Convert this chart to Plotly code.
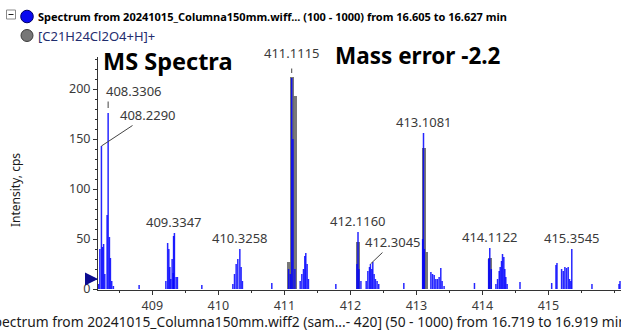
import plotly.graph_objects as go

# ---------------- data ----------------
blue_mz = [408.185, 408.205, 408.229, 408.245, 408.262, 408.28, 408.315, 408.3306, 408.35, 408.365, 408.385, 408.41, 408.80,
           409.205, 409.232, 409.25, 409.265, 409.28, 409.30, 409.315, 409.322, 409.3347, 409.36, 409.38, 409.75,
           410.22, 410.245, 410.27, 410.295, 410.3258, 410.345, 410.365, 410.81,
           411.065, 411.09, 411.1115, 411.13, 411.16, 411.24, 411.265, 411.29, 411.31, 411.325, 411.345, 411.365, 411.78,
           412.10, 412.116, 412.13, 412.16, 412.24, 412.265, 412.29, 412.3045, 412.325, 412.34, 412.36, 412.38, 412.405, 412.43, 412.81,
           413.095, 413.1081, 413.12, 413.22, 413.245, 413.27, 413.295, 413.32, 413.345, 413.37, 413.39, 413.42, 413.88,
           414.095, 414.1122, 414.135, 414.205, 414.23, 414.255, 414.27, 414.29, 414.305, 414.325, 414.34, 414.355, 414.375, 414.57,
           415.05, 415.115, 415.13, 415.20, 415.225, 415.25, 415.275, 415.30, 415.32, 415.34, 415.3545, 415.66, 416.07, 416.085]
blue_int = [5, 40, 143, 42, 45, 15, 74, 176, 52, 31, 8, 3, 4,
            8, 46, 40, 22, 10, 30, 16, 53, 56, 12, 12, 4,
            5, 15, 25, 30, 40, 22, 8, 6,
            20, 15, 211, 150, 20, 8, 15, 20, 33, 36, 25, 10, 5,
            25, 57, 20, 8, 8, 18, 22, 25, 20, 27, 15, 10, 8, 5, 6,
            50, 156, 40, 17, 15, 14, 10, 10, 12, 21, 8, 3, 6,
            30, 41, 20, 5, 10, 18, 22, 28, 35, 32, 20, 12, 5, 7,
            6, 24, 26, 20, 18, 22, 21, 22, 10, 8, 40, 5, 5, 8]

gray_mz = [411.07, 411.11, 411.155, 412.11, 413.11, 413.15, 414.11]
gray_int = [27, 212, 193, 47, 141, 37, 31]

x_ticks = [409, 410, 411, 412, 413, 414, 415]
y_ticks = [0, 50, 100, 150, 200]

peak_labels = ["408.3306", "408.2290", "409.3347", "410.3258", "411.1115",
               "412.1160", "412.3045", "413.1081", "414.1122", "415.3545"]
peak_label_int = [176, 143, 56, 40, 211, 57, 25, 156, 41, 40]

legend_names = ["<b>Spectrum from 20241015_Columna150mm.wiff... (100 - 1000) from 16.605 to 16.627 min</b>",
                "[C21H24Cl2O4+H]+"]
bottom_text = "Spectrum from 20241015_Columna150mm.wiff2 (sam...- 420] (50 - 1000) from 16.719 to 16.919 min"

# ---------------- layout geometry ----------------
W, H = 621, 331
L, R, T, B = 98, 0, 57, 41
PW, PH = W - L - R, H - T - B


def px2x(px):
    return (px - L) / PW


def py2y(py):
    return (H - B - py) / PH


FONT = "Noto Sans, Segoe UI, sans-serif"

# ---------------- traces ----------------
xs, ys = [], []
for m, h in zip(blue_mz, blue_int):
    xs += [m, m, None]
    ys += [0, h, None]

fig = go.Figure()
fig.add_trace(go.Bar(x=gray_mz, y=gray_int, width=0.06,
                     marker=dict(color="rgba(105,105,105,0.9)", line=dict(width=0)),
                     showlegend=False, hoverinfo="skip"))
fig.add_trace(go.Scatter(x=xs, y=ys, mode="lines",
                         line=dict(color="rgba(0,0,255,0.85)", width=1.5),
                         showlegend=False, hoverinfo="skip"))

# ---------------- annotations ----------------
ann = []
lab_col = "#3a3a3a"
LS = 13
for t, h in zip(peak_labels, peak_label_int):
    m = float(t)
    a = dict(x=m, y=h, text=t, showarrow=False, yanchor="bottom", yshift=0,
             font=dict(family=FONT, size=LS, color=lab_col))
    if t == "408.3306":
        a.update(xanchor="left", xshift=-4, yshift=11)
        ann.append(dict(x=m, y=h, text="", showarrow=True, ax=0, ay=-13, standoff=5,
                        arrowhead=0, arrowwidth=1, arrowcolor="#444"))
    elif t == "411.1115":
        a.update(yshift=14)
        ann.append(dict(x=m, y=h, text="", showarrow=True, ax=0, ay=-11, standoff=5,
                        arrowhead=0, arrowwidth=1, arrowcolor="#444"))
    elif t == "408.2290":
        a = dict(x=m, y=h, text=t, showarrow=True, ax=47, ay=-31, arrowhead=0,
                 arrowwidth=1, arrowcolor="#444", standoff=0,
                 font=dict(family=FONT, size=LS, color=lab_col))
    elif t == "412.3045":
        a = dict(x=m, y=h, text=t, showarrow=True, ax=23, ay=-22, arrowhead=0,
                 arrowwidth=1, arrowcolor="#444", standoff=0,
                 font=dict(family=FONT, size=LS, color=lab_col))
    ann.append(a)

# big titles
ann.append(dict(xref="paper", yref="paper", x=px2x(101), y=py2y(61.5), xanchor="left", yanchor="middle",
                text="<b>MS Spectra</b>", showarrow=False, font=dict(family=FONT, size=23.5, color="#000")))
ann.append(dict(xref="paper", yref="paper", x=px2x(333), y=py2y(55), xanchor="left", yanchor="middle",
                text="<b>Mass error -2.2</b>", showarrow=False, font=dict(family=FONT, size=22.5, color="#000")))

# legend rows
ann.append(dict(xref="paper", yref="paper", x=px2x(36), y=py2y(16.5), xanchor="left", yanchor="middle",
                text=legend_names[0], showarrow=False, font=dict(family=FONT, size=11, color="#000")))
ann.append(dict(xref="paper", yref="paper", x=px2x(36), y=py2y(35.5), xanchor="left", yanchor="middle",
                text=legend_names[1], showarrow=False, font=dict(family=FONT, size=13, color="#1f2d6e")))

# bottom caption
ann.append(dict(xref="paper", yref="paper", x=px2x(-15), y=py2y(321), xanchor="left", yanchor="middle",
                text=bottom_text, showarrow=False, borderpad=0,
                font=dict(family=FONT, size=13.8, color="#1a1a1a")))

# y axis title
ann.append(dict(xref="paper", yref="paper", x=px2x(15), y=py2y(190), xanchor="center", yanchor="middle",
                text="Intensity, cps", textangle=-90, showarrow=False,
                font=dict(family=FONT, size=12, color="#1a1a1a")))

# blue arrow marker at left of y axis
ann.append(dict(xref="paper", yref="y", x=px2x(98), y=10, text="", showarrow=True, ax=-11, ay=0,
                arrowhead=2, arrowsize=1, arrowwidth=2.6, arrowcolor="#0a0a90", standoff=0))

# ---------------- legend shapes ----------------
shapes = [
    dict(type="rect", xref="paper", yref="paper", x0=px2x(6.5), x1=px2x(15.5), y0=py2y(19), y1=py2y(10),
         line=dict(color="#8a8a8a", width=1), fillcolor="white"),
    dict(type="line", xref="paper", yref="paper", x0=px2x(8.5), x1=px2x(13.5), y0=py2y(14.5), y1=py2y(14.5),
         line=dict(color="#222", width=1)),
    dict(type="circle", xref="paper", yref="paper", x0=px2x(20.7), x1=px2x(33.3), y0=py2y(22.8), y1=py2y(10.2),
         line=dict(color="#00006a", width=1), fillcolor="#0a0af0"),
    dict(type="circle", xref="paper", yref="paper", x0=px2x(21), x1=px2x(33), y0=py2y(41.5), y1=py2y(29.5),
         line=dict(color="#3a3a3a", width=1), fillcolor="#777777"),
]

axis_col = "#333333"
fig.update_layout(
    width=W, height=H,
    margin=dict(l=L, r=R, t=T, b=B, pad=0),
    paper_bgcolor="white", plot_bgcolor="white",
    barmode="overlay", bargap=0,
    showlegend=False,
    annotations=ann,
    shapes=shapes,
    xaxis=dict(range=[408.177, 416.10], tickvals=x_ticks, ticktext=[str(v) for v in x_ticks],
               showgrid=False, zeroline=False, showline=True, linecolor=axis_col, linewidth=1,
               ticks="outside", ticklen=4, tickcolor=axis_col, ticklabelstandoff=0,
               minor=dict(dtick=0.5, tick0=409, ticks="outside", ticklen=2, tickcolor=axis_col),
               tickfont=dict(family=FONT, size=12.5, color="#3a3a3a")),
    yaxis=dict(range=[-1, 232], tickvals=y_ticks, ticktext=[str(v) for v in y_ticks],
               showgrid=False, zeroline=False, showline=True, linecolor=axis_col, linewidth=1,
               ticks="outside", ticklen=4, tickcolor=axis_col,
               minor=dict(dtick=10, tick0=0, ticks="outside", ticklen=2, tickcolor=axis_col),
               tickfont=dict(family=FONT, size=12.5, color="#3a3a3a")),
)

fig.write_html("out.html", config={"displayModeBar": False, "staticPlot": True},
               post_script="document.body.style.margin='0';document.body.style.overflow='hidden';")
